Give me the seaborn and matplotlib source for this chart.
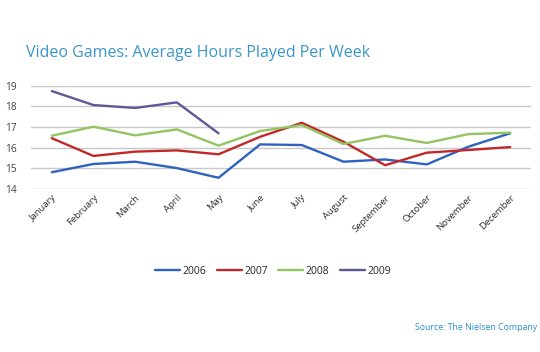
import pandas as pd
import matplotlib.pyplot as plt
import seaborn as sns

months = ["January", "February", "March", "April", "May", "June", "July",
          "August", "September", "October", "November", "December"]
years = ["2006", "2007", "2008", "2009"]
hours_2006 = [14.80, 15.20, 15.31, 15.00, 14.53, 16.15, 16.12, 15.31, 15.42, 15.18, 16.04, 16.69]
hours_2007 = [16.45, 15.59, 15.80, 15.86, 15.67, 16.52, 17.20, 16.28, 15.14, 15.75, 15.88, 16.02]
hours_2008 = [16.57, 17.01, 16.59, 16.88, 16.09, 16.80, 17.09, 16.17, 16.57, 16.22, 16.65, 16.72]
hours_2009 = [18.74, 18.06, 17.92, 18.19, 16.69]
colors = ["#2f62be", "#c0282a", "#94c460", "#5a5a96"]

series = [hours_2006, hours_2007, hours_2008, hours_2009]
records = []
for year, vals in zip(years, series):
    for i, v in enumerate(vals):
        records.append({"month": i, "hours": v, "year": year})
df = pd.DataFrame(records)

sns.set_style("white")
plt.rcParams['font.family'] = ['Open Sans', 'DejaVu Sans']

fig = plt.figure(figsize=(5.4, 3.52), dpi=100)
ax = fig.add_axes([31 / 540, 1 - 188.7 / 352, 500 / 540, 103 / 352])

sns.lineplot(data=df, x="month", y="hours", hue="year", hue_order=years,
             palette=colors, linewidth=1.7, ax=ax, legend=False)

ax.set_xlim(-0.5, 11.5)
ax.set_ylim(14, 19)
ax.set_yticks([14, 15, 16, 17, 18, 19])
ax.set_xticks(range(12))
ax.set_xticklabels(months, rotation=45, ha="right", rotation_mode="anchor",
                   fontsize=6.8, color="#303030")
ax.tick_params(axis="y", labelsize=7.3, colors="#404040", length=0, pad=10)
ax.tick_params(axis="x", length=0, pad=3)
ax.yaxis.grid(True, color="#c8c8c8", linewidth=1)
ax.set_axisbelow(True)
for s in ax.spines.values():
    s.set_visible(False)
ax.set_xlabel("")
ax.set_ylabel("")

handles = [plt.Line2D([], [], color=c, linewidth=1.7) for c in colors]
fig.legend(handles, years, loc="center", bbox_to_anchor=(273 / 540, 1 - 271 / 352),
           ncol=4, frameon=False, fontsize=7.5, handlelength=2.4,
           handletextpad=0.25, columnspacing=1.0)

fig.text(26 / 540, 1 - 53 / 352, "Video Games: Average Hours Played Per Week",
         fontsize=11.5, color="#3a96cc", va="center", ha="left")
fig.text(537 / 540, 1 - 327 / 352, "Source: The Nielsen Company",
         fontsize=6.3, color="#2a8fcc", va="center", ha="right")

fig.savefig("out.png", dpi=100)
